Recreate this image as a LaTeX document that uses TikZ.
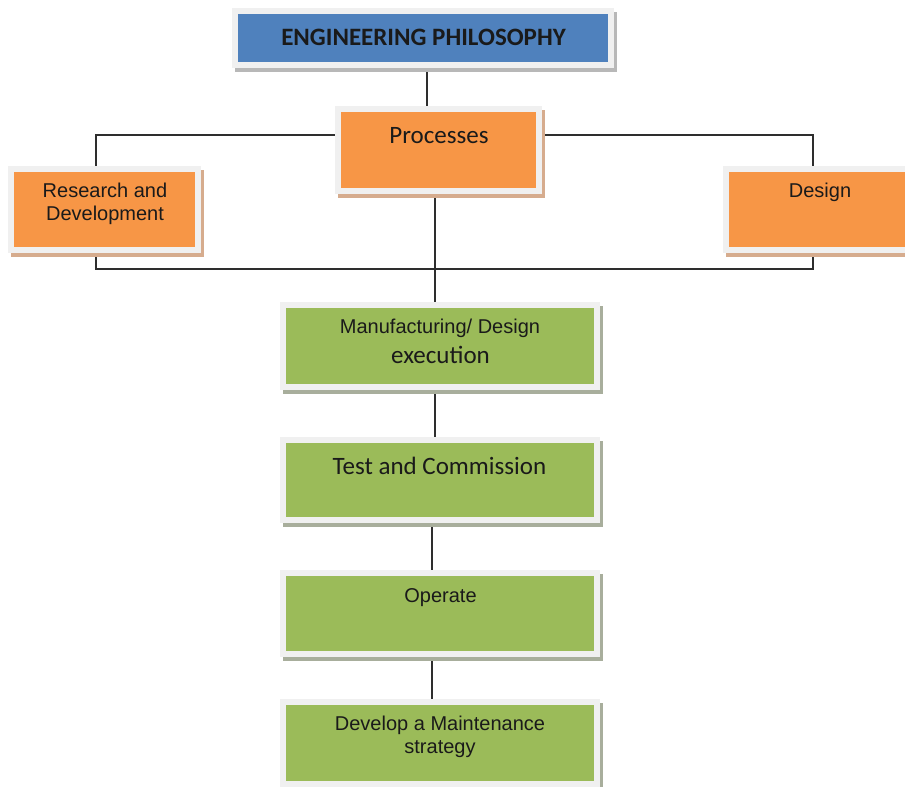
\documentclass[tikz,border=0pt]{standalone}
\usepackage{fontspec}
\newfontfamily\calfont{Carlito}
\newfontfamily\arifont{Liberation Sans}
\usetikzlibrary{backgrounds}

\definecolor{hdrblue}{HTML}{4F81BD}
\definecolor{procorange}{HTML}{F79646}
\definecolor{stepgreen}{HTML}{9BBB59}
\definecolor{framegray}{HTML}{F0F0F0}
\definecolor{tanshadow}{HTML}{D6AC8E}
\definecolor{greenshadow}{HTML}{A8AE9C}
\definecolor{blueshadow}{HTML}{B8B8B8}
\definecolor{linkgray}{HTML}{2E2E2E}
\definecolor{inkblack}{HTML}{1A1A1A}

\tikzset{
  boxbase/.style={rectangle, inner sep=0pt, outer sep=0pt,
    draw=framegray, line width=6pt},
  shadowed/.style={preaction={draw=#1, fill=#1, line width=6pt,
    transform canvas={xshift=3pt, yshift=-4pt}}},
  bluebox/.style={boxbase, fill=hdrblue, shadowed=blueshadow},
  orangebox/.style={boxbase, fill=procorange, shadowed=tanshadow},
  greenbox/.style={boxbase, fill=stepgreen, shadowed=greenshadow},
  lblA/.style={font=\arifont\fontsize{20}{23}\selectfont, text=inkblack,
    inner sep=0pt, anchor=base, align=center},
  lblC/.style={font=\calfont\fontsize{25}{30}\selectfont, text=inkblack,
    inner sep=0pt, anchor=base},
  conn/.style={draw=linkgray, line width=1.4pt},
}

\begin{document}
\begin{tikzpicture}[x=1pt, y=-1pt]
\useasboundingbox (0,0) rectangle (905,787);

% boxes
\node[bluebox, minimum width=376pt, minimum height=54pt] (top) at (423,38) {};
\node[orangebox, minimum width=201pt, minimum height=82pt] (proc) at (438.5,150) {};
\node[orangebox, minimum width=187pt, minimum height=81pt] (rnd) at (104.5,209.5) {};
\node[orangebox, minimum width=188pt, minimum height=81pt] (des) at (820,209.5) {};
\node[greenbox, minimum width=314pt, minimum height=82pt] (mfg) at (440,346) {};
\node[greenbox, minimum width=314pt, minimum height=80pt] (test) at (440,480) {};
\node[greenbox, minimum width=314pt, minimum height=81pt] (op) at (440,613.5) {};
\node[greenbox, minimum width=314pt, minimum height=82pt] (dev) at (440,743) {};

% labels (two-line labels sit on the baseline of their last line)
\node[lblC, font=\calfont\bfseries\fontsize{25}{30}\selectfont] (tTop) at (423.5,45) {ENGINEERING PHILOSOPHY};
\node[lblC] (tProc) at (439,143) {Processes};
\node[lblA] (tRnd) at (105,220) {Research and\\Development};
\node[lblA] (tDes) at (820,197.7) {Design};
\node[lblA] (tMfgA) at (440,333) {Manufacturing/ Design};
\node[lblC] (tMfgB) at (440.5,363) {execution};
\node[lblC] (tTest) at (439.5,474) {Test and Commission};
\node[lblA] (tOp) at (440.5,602) {Operate};
\node[lblA] (tDev) at (440,753) {Develop a Maintenance\\strategy};

% connectors
\begin{scope}[on background layer]
  \fill[white] (0,0) rectangle (905,787);
  \coordinate (bus) at (435,269);
  \draw[conn] ([xshift=4pt]top.south) -- ([xshift=4pt]top.south |- proc.north);
  \draw[conn] ([yshift=15pt]proc.west) -| ([xshift=-8.5pt]rnd.north);
  \draw[conn] ([yshift=15pt]proc.east) -| ([xshift=-7pt]des.north);
  \draw[conn] ([xshift=-8.5pt]rnd.south) |- (bus) -| ([xshift=-7pt]des.south);
  \draw[conn] ([xshift=-3.5pt]proc.south) -- ([xshift=-5pt]mfg.north);
  \draw[conn] ([xshift=-5pt]mfg.south) -- ([xshift=-5pt]test.north);
  \draw[conn] ([xshift=-8pt]test.south) -- ([xshift=-8pt]op.north);
  \draw[conn] ([xshift=-8pt]op.south) -- ([xshift=-8pt]dev.north);
\end{scope}
\end{tikzpicture}
\end{document}
